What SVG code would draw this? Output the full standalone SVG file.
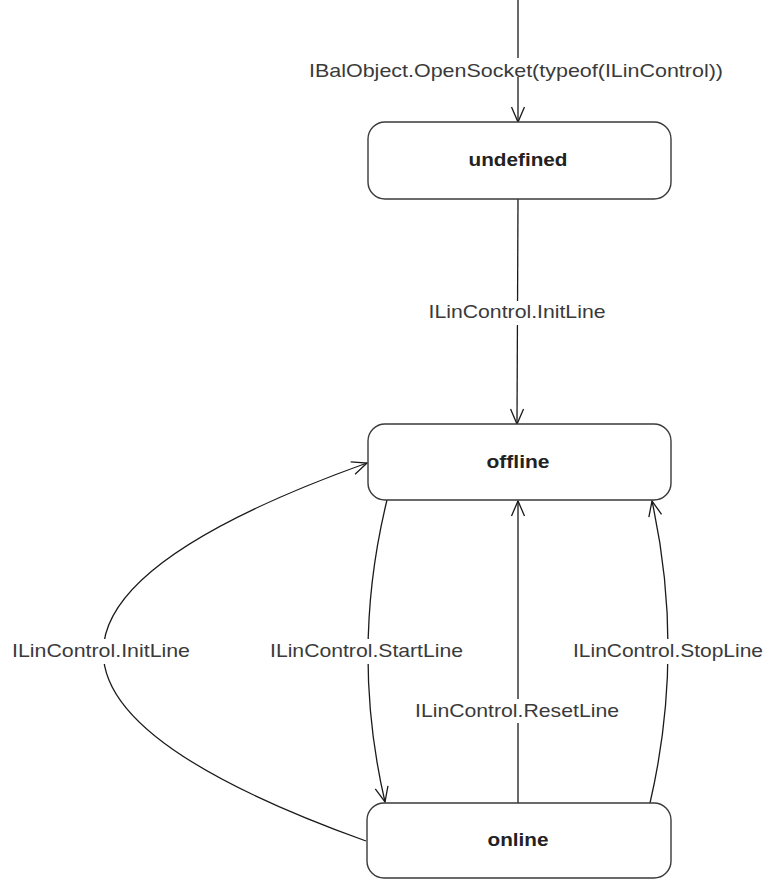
<svg xmlns="http://www.w3.org/2000/svg" width="766" height="880" viewBox="0 0 766 880">
  <style>
    .state rect { fill: #ffffff; stroke: #3a3a3a; stroke-width: 1.4; }
    .state text { font-family: "Liberation Sans", Arial, sans-serif; font-size: 19px; font-weight: bold; fill: #222222; text-anchor: middle; }
    .edge { fill: none; stroke: #1a1a1a; stroke-width: 1.3; }
    .lbl-bg { fill: #ffffff; }
    .lbl { font-family: "Liberation Sans", Arial, sans-serif; font-size: 18.5px; fill: #3a3a3a; text-anchor: middle; }
  </style>
  <defs>
    <marker id="open-arrow" markerUnits="userSpaceOnUse" viewBox="-16 -8 18 16" refX="0" refY="0" markerWidth="18" markerHeight="16" orient="auto">
      <path d="M-15,-6.5 L0,0 L-15,6.5" fill="none" stroke="#1a1a1a" stroke-width="1.3"/>
    </marker>
  </defs>

  <rect width="766" height="880" fill="#ffffff"/>

  <g id="connectors">
    <!-- initial transition into "undefined" -->
    <path class="edge" d="M518,0 L518,122" marker-end="url(#open-arrow)"/>
    <!-- undefined -> offline -->
    <path class="edge" d="M518,199 L517,424" marker-end="url(#open-arrow)"/>
    <!-- online -> offline (InitLine, wide arc on the left) -->
    <path class="edge" d="M366,841 Q-160,652 367,463" marker-end="url(#open-arrow)"/>
    <!-- offline -> online (StartLine) -->
    <path class="edge" d="M387,500 Q350,651 385,802" marker-end="url(#open-arrow)"/>
    <!-- online -> offline (ResetLine) -->
    <path class="edge" d="M518,803 L518,501" marker-end="url(#open-arrow)"/>
    <!-- online -> offline (StopLine) -->
    <path class="edge" d="M650,803 Q685,652 652,501" marker-end="url(#open-arrow)"/>

    <!-- transition labels -->
    <rect class="lbl-bg" x="308" y="58" width="416" height="19"/>
    <text class="lbl" x="516" y="77" textLength="414" lengthAdjust="spacingAndGlyphs">IBalObject.OpenSocket(typeof(ILinControl))</text>

    <rect class="lbl-bg" x="427" y="301" width="180" height="24"/>
    <text class="lbl" x="517" y="318" textLength="177" lengthAdjust="spacingAndGlyphs">ILinControl.InitLine</text>

    <rect class="lbl-bg" x="10" y="639" width="182" height="25"/>
    <text class="lbl" x="101" y="657" textLength="178" lengthAdjust="spacingAndGlyphs">ILinControl.InitLine</text>

    <rect class="lbl-bg" x="268" y="639" width="197" height="25"/>
    <text class="lbl" x="366.5" y="657" textLength="193" lengthAdjust="spacingAndGlyphs">ILinControl.StartLine</text>

    <rect class="lbl-bg" x="571" y="639" width="194" height="25"/>
    <text class="lbl" x="668" y="657" textLength="190" lengthAdjust="spacingAndGlyphs">ILinControl.StopLine</text>

    <rect class="lbl-bg" x="413" y="699" width="208" height="24"/>
    <text class="lbl" x="517" y="717" textLength="204" lengthAdjust="spacingAndGlyphs">ILinControl.ResetLine</text>
  </g>

  <g id="state-undefined" class="state">
    <rect x="368" y="122" width="303" height="77" rx="17" ry="17"/>
    <text x="518" y="166" textLength="99" lengthAdjust="spacingAndGlyphs">undefined</text>
  </g>

  <g id="state-offline" class="state">
    <rect x="368" y="424" width="303" height="76" rx="17" ry="17"/>
    <text x="518" y="468" textLength="63" lengthAdjust="spacingAndGlyphs">offline</text>
  </g>

  <g id="state-online" class="state">
    <rect x="367" y="803" width="304" height="75" rx="17" ry="17"/>
    <text x="518" y="846" textLength="61" lengthAdjust="spacingAndGlyphs">online</text>
  </g>
</svg>
